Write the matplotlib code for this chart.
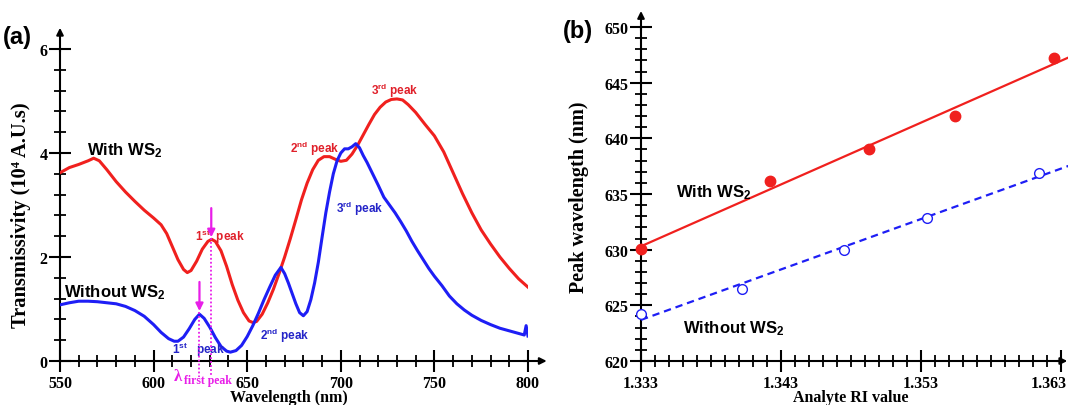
import numpy as np
import matplotlib
matplotlib.use("Agg")
import matplotlib.pyplot as plt
import matplotlib.transforms as mtransforms
from matplotlib.ticker import MultipleLocator

plt.rcParams['mathtext.fontset'] = 'custom'
plt.rcParams['mathtext.rm'] = 'Liberation Sans:bold'
plt.rcParams['mathtext.it'] = 'Liberation Sans:bold'
plt.rcParams['mathtext.bf'] = 'Liberation Sans:bold'

# ---- panel (a): transmission spectra ----
wl_with = [550, 555, 560, 565, 568, 571, 575, 580, 585, 590, 595, 600, 604, 607, 610,
           613, 616, 618, 620, 623, 626, 629, 631, 633, 636, 639, 642, 645, 648, 651,
           653, 655, 658, 661, 664, 667, 670, 673, 676, 679, 682, 685, 688, 691, 694,
           697, 700, 703, 706, 709, 712, 715, 718, 721, 724, 727, 730, 733, 736, 740,
           745, 750, 755, 760, 765, 770, 775, 780, 785, 790, 795, 800]
t_with = [3.62, 3.72, 3.78, 3.85, 3.90, 3.85, 3.68, 3.45, 3.25, 3.07, 2.90, 2.75, 2.62, 2.45, 2.20,
          1.95, 1.76, 1.70, 1.74, 1.92, 2.15, 2.30, 2.34, 2.30, 2.12, 1.82, 1.47, 1.17, 0.93, 0.77,
          0.74, 0.76, 0.90, 1.12, 1.38, 1.68, 2.00, 2.35, 2.72, 3.10, 3.42, 3.68, 3.86, 3.93, 3.93,
          3.88, 3.84, 3.86, 3.98, 4.15, 4.35, 4.55, 4.74, 4.88, 4.98, 5.03, 5.04, 5.02, 4.93, 4.78,
          4.55, 4.33, 4.02, 3.62, 3.22, 2.85, 2.52, 2.25, 2.00, 1.78, 1.58, 1.42]

wl_without = [550, 555, 560, 565, 570, 575, 580, 585, 590, 595, 600, 604, 608, 611, 613,
              616, 619, 622, 624.5, 627, 630, 633, 636, 639, 641, 644, 647, 650, 653, 656,
              659, 662, 665, 668, 670, 672, 674, 676, 678, 680, 682, 684, 686, 688, 690,
              692, 694, 696, 698, 700, 702, 704, 706, 708, 710, 712, 714, 717, 720, 723,
              726, 729, 732, 735, 738, 741, 744, 747, 750, 754, 758, 762, 766, 770, 775,
              780, 785, 790, 795, 798, 799, 800]
t_without = [1.08, 1.12, 1.15, 1.15, 1.14, 1.12, 1.10, 1.05, 0.97, 0.86, 0.70, 0.55, 0.43, 0.38, 0.38,
             0.46, 0.62, 0.80, 0.90, 0.82, 0.65, 0.45, 0.28, 0.19, 0.17, 0.20, 0.30, 0.47, 0.68, 0.92,
             1.18, 1.42, 1.65, 1.80, 1.68, 1.50, 1.30, 1.10, 0.93, 0.87, 0.95, 1.18, 1.50, 1.90, 2.38,
             2.85, 3.25, 3.60, 3.85, 4.00, 4.08, 4.08, 4.12, 4.18, 4.10, 3.95, 3.82, 3.60, 3.38, 3.15,
             3.00, 2.85, 2.68, 2.50, 2.30, 2.12, 1.95, 1.78, 1.63, 1.45, 1.25, 1.10, 0.98, 0.88, 0.78,
             0.70, 0.63, 0.58, 0.53, 0.50, 0.68, 0.48]

peak_with_wl = 630.8
peak_with_t = 2.36
peak_without_wl = 624.5
peak_without_t = 0.94

# ---- panel (b): peak wavelength vs RI ----
ri_with = [1.333, 1.3422, 1.3493, 1.3554, 1.3625]
pk_with = [630.1, 636.2, 639.0, 642.0, 647.2]
ri_without = [1.333, 1.3402, 1.3475, 1.3534, 1.3614]
pk_without = [624.2, 626.5, 630.0, 632.8, 636.9]

RED = '#f0201e'
BLUE = '#1e1ef5'
MAG = '#e81ee8'
RED_TXT = '#e0202a'
BLUE_TXT = '#2424c8'

W, H = 1068, 406
fig = plt.figure(figsize=(W / 100, H / 100), dpi=100)


def axes_px(left, right, top, bottom):
    return fig.add_axes([left / W, 1 - bottom / H, (right - left) / W, (bottom - top) / H])


def style_axes(ax, xarrow, yarrow):
    for s in ('top', 'right'):
        ax.spines[s].set_visible(False)
    for s in ('left', 'bottom'):
        ax.spines[s].set_linewidth(1.5)
    ax.tick_params(which='major', direction='inout', length=16, width=1.5)
    ax.tick_params(which='minor', direction='inout', length=8, width=1.3)
    for lab in ax.get_xticklabels() + ax.get_yticklabels():
        lab.set_family('Liberation Serif')
        lab.set_weight('bold')
        lab.set_fontsize(11.5)
    arrow = dict(arrowstyle='-|>', color='black', lw=1.5, mutation_scale=10, shrinkA=0, shrinkB=0)
    ax.annotate('', xy=(xarrow, 0), xytext=(0.99, 0), xycoords='axes fraction',
                arrowprops=arrow, annotation_clip=False)
    ax.annotate('', xy=(0, yarrow), xytext=(0, 0.99), xycoords='axes fraction',
                arrowprops=arrow, annotation_clip=False)


xlabel_font = dict(family='Liberation Serif', weight='bold', size=11.5)
sans = dict(family='Liberation Sans', weight='bold')

# ------------------ (a) ------------------
ax1 = axes_px(60, 528, 50, 362)
ax1.plot(wl_with, t_with, color=RED, lw=2.2, zorder=3)
ax1.plot(wl_without, t_without, color=BLUE, lw=2.2, zorder=3)
ax1.set_xlim(550, 800)
ax1.set_ylim(0, 6)
ax1.set_xticks([550, 600, 650, 700, 750, 800])
ax1.set_yticks([0, 2, 4, 6])
ax1.xaxis.set_minor_locator(MultipleLocator(10))
ax1.yaxis.set_minor_locator(MultipleLocator(0.4))
ax1.tick_params(axis='x', which='major', pad=2)
ax1.tick_params(axis='y', which='major', pad=1)
style_axes(ax1, 1.04, 1.068)
ax1.set_xlabel('Wavelength (nm)', va='baseline', **xlabel_font)
ax1.xaxis.set_label_coords(0.49, (362 - 402) / 312)
ax1.set_ylabel('Transmissivity (10\u2074 A.U.s)', family=['Liberation Serif', 'DejaVu Serif'],
               weight='bold', size=14.8)
ax1.yaxis.set_label_coords(-0.062, 0.47)

ax1.text(564.4, 3.98, 'With WS$_2$', color='black', size=12, **sans)
ax1.text(552.1, 1.24, 'Without WS$_2$', color='black', size=12, **sans)

pk = dict(size=8.5, va='baseline', ha='left', **sans)
ax1.text(622.1, 2.33, '1$^{st}$  peak', color=RED_TXT, **pk)
ax1.text(672.9, 4.02, '2$^{nd}$ peak', color=RED_TXT, **pk)
ax1.text(716.1, 5.13, '3$^{rd}$ peak', color=RED_TXT, **pk)
ax1.text(609.8, 0.15, '1$^{st}$   peak', color=BLUE_TXT, **pk)
ax1.text(656.8, 0.42, '2$^{nd}$ peak', color=BLUE_TXT, **pk)
ax1.text(697.4, 2.87, '3$^{rd}$ peak', color=BLUE_TXT, **pk)

# markers for the first peaks
for x0, y0 in ((peak_with_wl, peak_with_t), (peak_without_wl, peak_without_t)):
    ax1.plot([x0, x0], [y0, -0.31], color=MAG, lw=1.3, ls=(0, (1, 1.2)), clip_on=False, zorder=4)
    ax1.annotate('', xy=(x0, y0 + 0.02), xytext=(x0, y0 + 0.58),
                 arrowprops=dict(arrowstyle='-|>', color=MAG, lw=1.6, mutation_scale=11,
                                 shrinkA=0, shrinkB=0), zorder=5)
ax1.text(611.0, -0.36, '\u03bb', color=MAG, size=12, family='Liberation Serif', weight='bold',
         va='baseline', clip_on=False)
ax1.text(616.3, -0.43, 'first peak', color=MAG, size=8.5, family='Liberation Serif',
         weight='bold', va='baseline', clip_on=False)

# ------------------ (b) ------------------
ax2 = axes_px(641, 1061, 28, 362)
xfit = np.array([1.333, 1.3636])
c_with = np.polyfit(ri_with, pk_with, 1)
c_without = np.polyfit(ri_without, pk_without, 1)
ax2.plot(xfit, np.polyval(c_with, xfit), color=RED, lw=1.6, zorder=3, clip_on=False)
ln, = ax2.plot(xfit, np.polyval(c_without, xfit), color=BLUE, lw=1.6, zorder=3, clip_on=False)
ln.set_dashes((3.3, 2.2))
ax2.plot(ri_with, pk_with, 'o', color=RED, ms=7.5, zorder=4, clip_on=False)
ax2.plot(ri_without, pk_without, 'o', mfc='white', mec=BLUE, mew=1.0, ms=7, zorder=4,
         clip_on=False)
ax2.set_xlim(1.333, 1.363)
ax2.set_ylim(620, 650)
ax2.set_xticks([1.333, 1.343, 1.353, 1.363])
ax2.set_xticklabels(['1.333', '1.343', '1.353', '1.363'])
ax2.set_yticks([620, 625, 630, 635, 640, 645, 650])
ax2.xaxis.set_minor_locator(MultipleLocator(0.001))
ax2.yaxis.set_minor_locator(MultipleLocator(1))
ax2.tick_params(axis='x', which='major', pad=2)
ax2.tick_params(axis='y', which='major', pad=1)
style_axes(ax2, 1.015, 1.048)
# last tick label sits against the right edge of the figure
last = ax2.get_xticklabels()[-1]
last.set_horizontalalignment('right')
last.set_transform(last.get_transform() + mtransforms.ScaledTranslation(6 / 100, 0, fig.dpi_scale_trans))
ax2.set_xlabel('Analyte RI value', va='baseline', **xlabel_font)
ax2.xaxis.set_label_coords(0.5, (362 - 402) / 334)
ax2.set_ylabel('Peak wavelength (nm)', family='Liberation Serif', weight='bold', size=14.5)
ax2.yaxis.set_label_coords(-0.123, 0.494)

ax2.text(1.3355, 634.8, 'With WS$_2$', color='black', size=12, va='baseline', **sans)
ax2.text(1.3360, 622.6, 'Without WS$_2$', color='black', size=12, va='baseline', **sans)

fig.text(3 / W, 1 - 44 / H, '(a)', size=17, va='baseline', **sans)
fig.text(563 / W, 1 - 38 / H, '(b)', size=17, va='baseline', **sans)

fig.savefig('out.png', dpi=100)
